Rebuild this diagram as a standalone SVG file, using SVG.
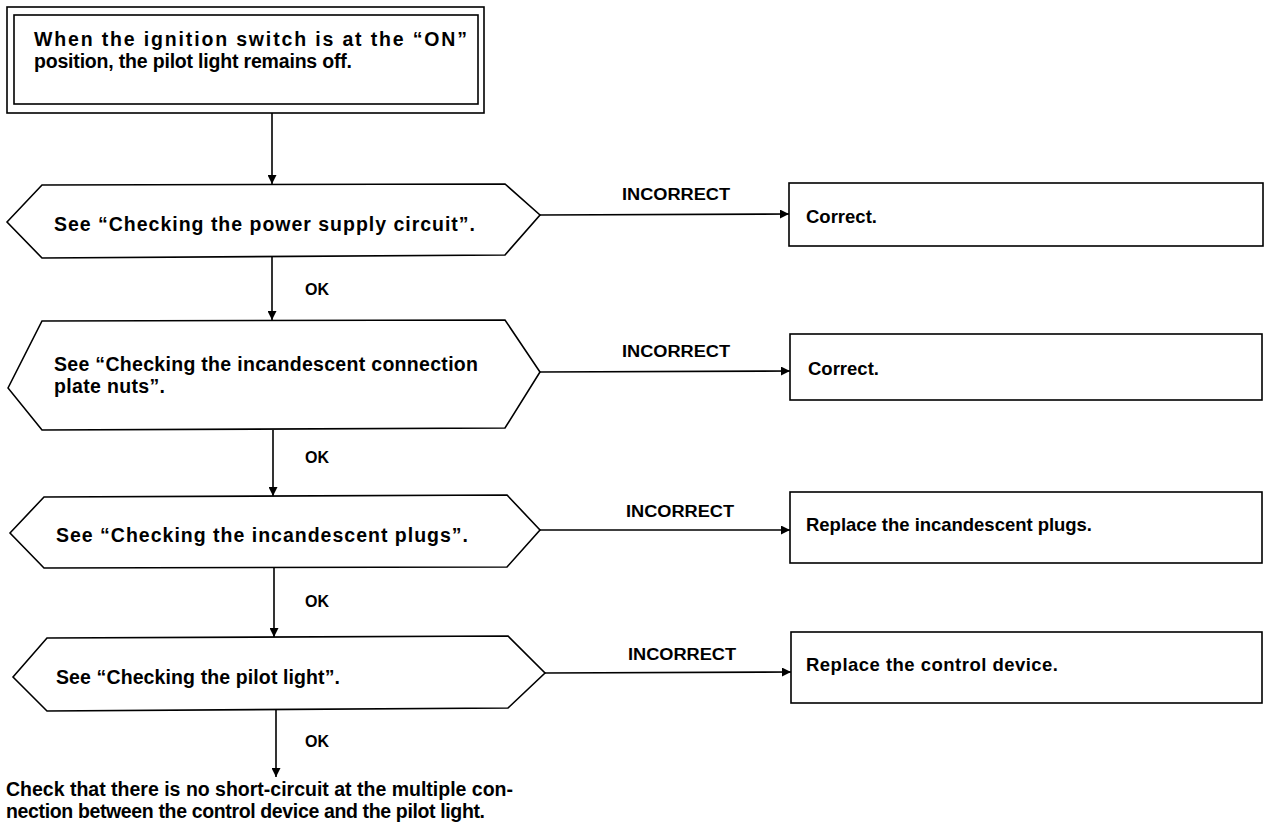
<svg xmlns="http://www.w3.org/2000/svg" width="1268" height="835" viewBox="0 0 1268 835">
  <style>
    .bg { fill: #ffffff; }
    .shape { fill: none; stroke: #000; stroke-width: 1.6; }
    .conn { fill: none; stroke: #000; stroke-width: 1.6; }
    .main { font-family: "Liberation Sans", Arial, sans-serif; font-weight: bold; font-size: 19.5px; fill: #000; }
    .act { font-family: "Liberation Sans", Arial, sans-serif; font-weight: bold; font-size: 18.5px; fill: #000; }
    .lbl { font-family: "Liberation Sans", Arial, sans-serif; font-weight: bold; font-size: 16px; fill: #000; }
  </style>
  <defs>
    <marker id="arrow" viewBox="0 0 10 10" refX="10" refY="5" markerWidth="9" markerHeight="9" markerUnits="userSpaceOnUse" orient="auto">
      <path d="M0,0 L10,5 L0,10 Z" fill="#000"/>
    </marker>
  </defs>
  <rect class="bg" x="0" y="0" width="1268" height="835"/>

  <!-- Start: double-framed statement box -->
  <g id="start">
    <rect class="shape" x="7" y="7" width="477" height="106"/>
    <rect class="shape" x="14" y="15" width="464" height="89"/>
    <text class="main" x="34" y="46" textLength="433" lengthAdjust="spacing">When the ignition switch is at the “ON”</text>
    <text class="main" x="34" y="68" textLength="318" lengthAdjust="spacing">position, the pilot light remains off.</text>
  </g>

  <!-- Checks (hexagons) -->
  <g id="check1">
    <polygon class="shape" points="7,222 42,185 505,184 540,215 505,255 42,258"/>
    <text class="main" x="54" y="231" textLength="421" lengthAdjust="spacing">See “Checking the power supply circuit”.</text>
  </g>
  <g id="check2">
    <polygon class="shape" points="8,388 42,321 505,320 540,372 505,428 42,430"/>
    <text class="main" x="54" y="371" textLength="424" lengthAdjust="spacing">See “Checking the incandescent connection</text>
    <text class="main" x="54" y="393" textLength="111" lengthAdjust="spacing">plate nuts”.</text>
  </g>
  <g id="check3">
    <polygon class="shape" points="10,533 44,497 507,495 540,530 507,567 44,568"/>
    <text class="main" x="56" y="542" textLength="412" lengthAdjust="spacing">See “Checking the incandescent plugs”.</text>
  </g>
  <g id="check4">
    <polygon class="shape" points="13,677 47,638 508,636 545,673 508,708 47,711"/>
    <text class="main" x="56" y="684" textLength="284" lengthAdjust="spacing">See “Checking the pilot light”.</text>
  </g>

  <!-- Remedies -->
  <g id="fix1">
    <rect class="shape" x="789" y="183" width="474" height="63"/>
    <text class="act" x="806" y="223">Correct.</text>
  </g>
  <g id="fix2">
    <rect class="shape" x="790" y="334" width="472" height="66"/>
    <text class="act" x="808" y="375">Correct.</text>
  </g>
  <g id="fix3">
    <rect class="shape" x="790" y="492" width="472" height="71"/>
    <text class="act" x="806" y="531" textLength="286" lengthAdjust="spacing">Replace the incandescent plugs.</text>
  </g>
  <g id="fix4">
    <rect class="shape" x="791" y="632" width="471" height="71"/>
    <text class="act" x="806" y="671" textLength="252" lengthAdjust="spacing">Replace the control device.</text>
  </g>

  <!-- Conclusion -->
  <g id="end">
    <text class="main" x="6" y="796" textLength="507" lengthAdjust="spacing">Check that there is no short-circuit at the multiple con-</text>
    <text class="main" x="6" y="818" textLength="479" lengthAdjust="spacing">nection between the control device and the pilot light.</text>
  </g>

  <!-- Connectors -->
  <g id="connectors">
    <line class="conn" x1="272" y1="113" x2="272" y2="184" marker-end="url(#arrow)"/>
    <line class="conn" x1="272" y1="257" x2="272" y2="320" marker-end="url(#arrow)"/>
    <line class="conn" x1="273" y1="430" x2="273" y2="496" marker-end="url(#arrow)"/>
    <line class="conn" x1="274" y1="568" x2="274" y2="637" marker-end="url(#arrow)"/>
    <line class="conn" x1="276" y1="710" x2="276" y2="777" marker-end="url(#arrow)"/>

    <line class="conn" x1="540" y1="215" x2="789" y2="214" marker-end="url(#arrow)"/>
    <line class="conn" x1="540" y1="372" x2="790" y2="371" marker-end="url(#arrow)"/>
    <line class="conn" x1="540" y1="530" x2="790" y2="530" marker-end="url(#arrow)"/>
    <line class="conn" x1="545" y1="673" x2="791" y2="672" marker-end="url(#arrow)"/>

    <text class="lbl" x="305" y="295">OK</text>
    <text class="lbl" x="305" y="463">OK</text>
    <text class="lbl" x="305" y="607">OK</text>
    <text class="lbl" x="305" y="747">OK</text>

    <text class="lbl" x="622" y="200" textLength="108" lengthAdjust="spacingAndGlyphs">INCORRECT</text>
    <text class="lbl" x="622" y="357" textLength="108" lengthAdjust="spacingAndGlyphs">INCORRECT</text>
    <text class="lbl" x="626" y="517" textLength="108" lengthAdjust="spacingAndGlyphs">INCORRECT</text>
    <text class="lbl" x="628" y="660" textLength="108" lengthAdjust="spacingAndGlyphs">INCORRECT</text>
  </g>
</svg>
